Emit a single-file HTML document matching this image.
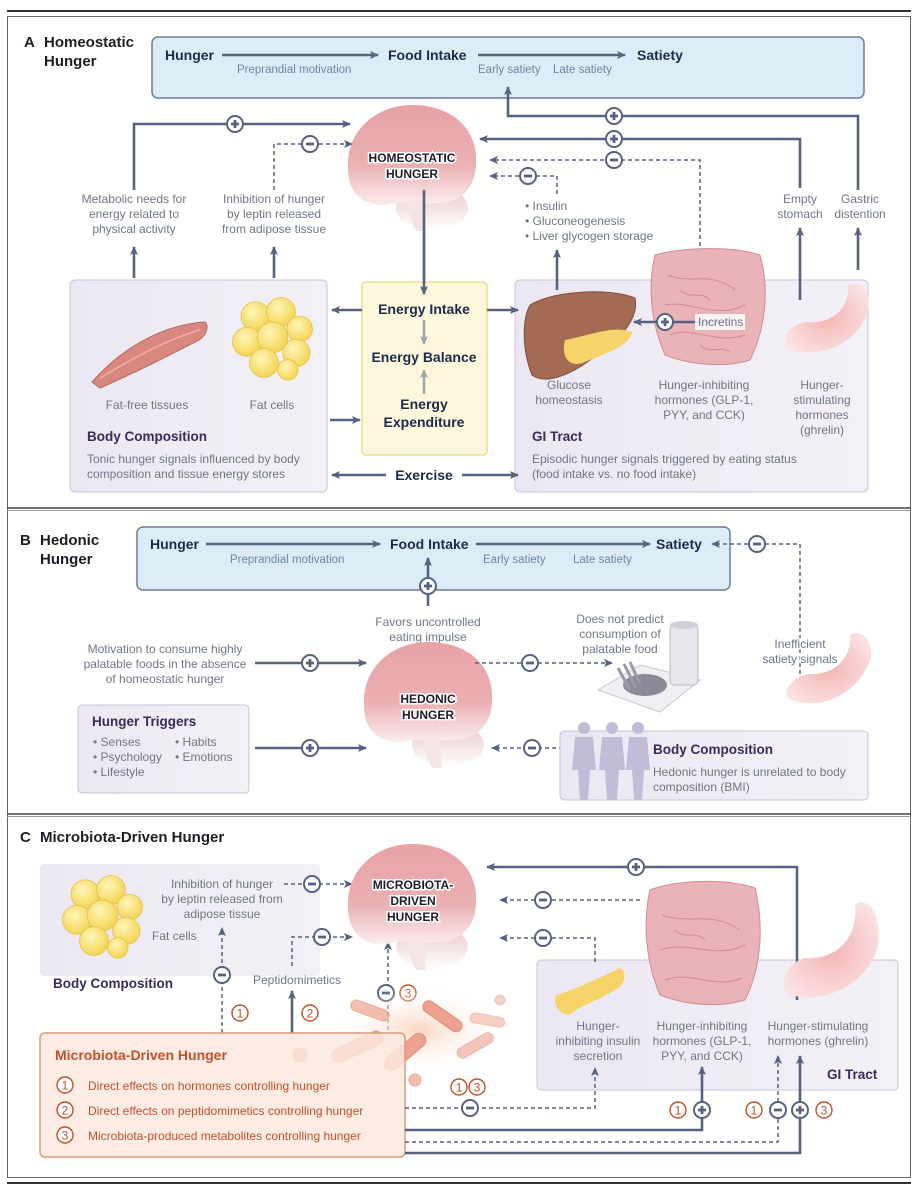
<!DOCTYPE html>
<html><head><meta charset="utf-8"><style>
html,body{margin:0;padding:0;background:#fff}
svg{display:block}
text{font-family:"Liberation Sans",sans-serif}
.g{fill:#6e7687;font-size:12px}
.gc{fill:#6e7687;font-size:12px;text-anchor:middle}
.bt{fill:#1d2b4a;font-size:14px;font-weight:bold}
.pt{fill:#3b2a5a;font-size:13.5px;font-weight:bold}
.ln{stroke:#56627f;stroke-width:2.6;fill:none}
.dl{stroke:#56627f;stroke-width:1.5;fill:none;stroke-dasharray:4 3}
.rn{fill:#c0502a;font-size:12px}
.bh{font-size:12px;font-weight:bold;fill:#1d1d2a;text-anchor:middle;stroke:#fff;stroke-width:3;paint-order:stroke}
</style></head><body>
<svg width="919" height="1200" viewBox="0 0 919 1200" xmlns="http://www.w3.org/2000/svg">
<defs>
<marker id="ar" markerWidth="10" markerHeight="10" refX="8" refY="5" orient="auto" markerUnits="userSpaceOnUse"><path d="M0,1 L9,5 L0,9 L2,5z" fill="#56627f"/></marker>
<marker id="ag" markerWidth="10" markerHeight="10" refX="8" refY="5" orient="auto" markerUnits="userSpaceOnUse"><path d="M0,1 L9,5 L0,9 L2,5z" fill="#a0a4ac"/></marker>
<symbol id="pl" viewBox="-10 -10 20 20" width="20" height="20"><circle r="8" fill="#fff" stroke="#56627f" stroke-width="2"/><path d="M-4,0H4M0,-4V4" stroke="#56627f" stroke-width="2.8"/></symbol>
<symbol id="mi" viewBox="-10 -10 20 20" width="20" height="20"><circle r="8" fill="#fff" stroke="#56627f" stroke-width="2"/><path d="M-4,0H4" stroke="#56627f" stroke-width="2.8"/></symbol>
<symbol id="c1" viewBox="-10 -10 20 20" width="20" height="20"><circle r="8" fill="#fff" stroke="#c0502a" stroke-width="1.4"/><text y="4.5" text-anchor="middle" font-size="12" fill="#c0502a" font-family="Liberation Sans">1</text></symbol>
<symbol id="c2" viewBox="-10 -10 20 20" width="20" height="20"><circle r="8" fill="#fff" stroke="#c0502a" stroke-width="1.4"/><text y="4.5" text-anchor="middle" font-size="12" fill="#c0502a" font-family="Liberation Sans">2</text></symbol>
<symbol id="c3" viewBox="-10 -10 20 20" width="20" height="20"><circle r="8" fill="#fff" stroke="#c0502a" stroke-width="1.4"/><text y="4.5" text-anchor="middle" font-size="12" fill="#c0502a" font-family="Liberation Sans">3</text></symbol>
<linearGradient id="brg" x1="0" y1="0" x2="0" y2="1"><stop offset="0" stop-color="#e8a2a6"/><stop offset="0.6" stop-color="#eab0b2"/><stop offset="1" stop-color="#fbeeee"/></linearGradient>
<linearGradient id="cbg" x1="0" y1="0" x2="0" y2="1"><stop offset="0" stop-color="#e9c6c6"/><stop offset="1" stop-color="#ffffff"/></linearGradient>
<linearGradient id="lav" x1="0" y1="0" x2="1" y2="0"><stop offset="0" stop-color="#ece8f3"/><stop offset="1" stop-color="#f3f1f7"/></linearGradient>
<radialGradient id="fat" cx="0.4" cy="0.35" r="0.7"><stop offset="0" stop-color="#fff6b8"/><stop offset="1" stop-color="#f3d24e"/></radialGradient>
<radialGradient id="stm" cx="0.5" cy="0.5" r="0.6"><stop offset="0" stop-color="#f3b5b4"/><stop offset="1" stop-color="#fbe3e2"/></radialGradient>
<radialGradient id="glow" cx="0.5" cy="0.5" r="0.5"><stop offset="0" stop-color="#fbd6c0"/><stop offset="1" stop-color="#fff" stop-opacity="0"/></radialGradient>
<symbol id="brain" viewBox="-70 -60 140 130" width="140" height="130">
<ellipse cx="20" cy="45" rx="36" ry="22" fill="url(#cbg)"/>
<path d="M-64,5 C-66,-32 -36,-58 0,-58 C42,-58 66,-32 64,0 C64,26 47,40 25,40 C5,42 -10,37 -25,42 C-47,44 -64,32 -64,5z" fill="url(#brg)"/>
<path d="M-5,38 C-3,50 0,60 4,68 L14,68 C12,55 12,45 12,38z" fill="#f4e4e4"/>
</symbol>
<symbol id="fatc" viewBox="0 0 100 100" width="100" height="100">
<g fill="url(#fat)" stroke="#e6c34a" stroke-width="1">
<circle cx="30" cy="25" r="17"/><circle cx="60" cy="20" r="17"/><circle cx="82" cy="40" r="15"/><circle cx="20" cy="55" r="17"/><circle cx="50" cy="50" r="18"/><circle cx="78" cy="68" r="16"/><circle cx="40" cy="80" r="17"/><circle cx="68" cy="88" r="12"/></g>
</symbol>
</defs>

<line x1="7" y1="11" x2="911" y2="11" stroke="#333" stroke-width="2"/>
<rect x="7.5" y="16.5" width="903" height="1161" fill="none" stroke="#666" stroke-width="1"/>
<line x1="7" y1="508" x2="911" y2="508" stroke="#444" stroke-width="1.5"/>
<line x1="7" y1="510.5" x2="911" y2="510.5" stroke="#999" stroke-width="1"/>
<line x1="7" y1="814" x2="911" y2="814" stroke="#444" stroke-width="1.5"/>
<line x1="7" y1="816.5" x2="911" y2="816.5" stroke="#999" stroke-width="1"/>
<line x1="7" y1="1183" x2="911" y2="1183" stroke="#333" stroke-width="2"/>

<!-- A -->
<text x="24" y="47" font-size="15" font-weight="bold" fill="#1d1d2a">A</text>
<text x="44" y="47" font-size="15" font-weight="bold" fill="#1d1d2a">Homeostatic</text>
<text x="44" y="66" font-size="15" font-weight="bold" fill="#1d1d2a">Hunger</text>

<rect x="152" y="37" width="712" height="61" rx="6" fill="#dcedf7" stroke="#6b7d98" stroke-width="1.5"/>
<text class="bt" x="165" y="60">Hunger</text>
<line class="ln" x1="222" y1="55" x2="378" y2="55" marker-end="url(#ar)"/>
<text class="bt" x="388" y="60">Food Intake</text>
<line class="ln" x1="478" y1="55" x2="625" y2="55" marker-end="url(#ar)"/>
<text class="bt" x="637" y="60">Satiety</text>
<text x="237" y="73" font-size="11.5" fill="#6b86a3">Preprandial motivation</text>
<text x="478" y="73" font-size="11.5" fill="#6b86a3">Early satiety</text>
<text x="553" y="73" font-size="11.5" fill="#6b86a3">Late satiety</text>

<rect x="70" y="280" width="257" height="212" rx="5" fill="url(#lav)" stroke="#c9c3d8"/>
<rect x="515" y="280" width="353" height="212" rx="5" fill="url(#lav)" stroke="#c9c3d8"/>
<rect x="362" y="282" width="125" height="173" rx="4" fill="#fdf7dc" stroke="#f0dc8c" stroke-width="1.5"/>

<use href="#brain" x="342" y="103"/>
<text class="bh" x="412" y="162">HOMEOSTATIC</text>
<text class="bh" x="412" y="178">HUNGER</text>

<path class="ln" d="M134,190 V124 H350" marker-end="url(#ar)"/>
<use href="#pl" x="225" y="114"/>
<path class="dl" d="M274,190 V144 H352" marker-end="url(#ar)"/>
<use href="#mi" x="300" y="134"/>
<text class="gc" x="134" y="203">Metabolic needs for</text>
<text class="gc" x="134" y="218">energy related to</text>
<text class="gc" x="134" y="233">physical activity</text>
<text class="gc" x="274" y="203">Inhibition of hunger</text>
<text class="gc" x="274" y="218">by leptin released</text>
<text class="gc" x="274" y="233">from adipose tissue</text>
<line class="ln" x1="134" y1="278" x2="134" y2="247" marker-end="url(#ar)"/>
<line class="ln" x1="274" y1="278" x2="274" y2="247" marker-end="url(#ar)"/>

<path class="ln" d="M858,190 V116 H508 V87" marker-end="url(#ar)"/>
<use href="#pl" x="604" y="106"/>
<path class="ln" d="M800,188 V139 H480" marker-end="url(#ar)"/>
<use href="#pl" x="604" y="129"/>
<path class="dl" d="M700,253 V160 H490" marker-end="url(#ar)"/>
<use href="#mi" x="604" y="150"/>
<path class="dl" d="M557,194 V176 H490" marker-end="url(#ar)"/>
<use href="#mi" x="518" y="166"/>
<text class="g" x="525" y="210">• Insulin</text>
<text class="g" x="525" y="225">• Gluconeogenesis</text>
<text class="g" x="525" y="240">• Liver glycogen storage</text>
<line class="ln" x1="557" y1="290" x2="557" y2="250" marker-end="url(#ar)"/>
<text class="gc" x="800" y="203">Empty</text>
<text class="gc" x="800" y="218">stomach</text>
<text class="gc" x="860" y="203">Gastric</text>
<text class="gc" x="860" y="218">distention</text>
<line class="ln" x1="800" y1="300" x2="800" y2="228" marker-end="url(#ar)"/>
<line class="ln" x1="858" y1="270" x2="858" y2="228" marker-end="url(#ar)"/>

<line class="ln" x1="424" y1="190" x2="424" y2="294" marker-end="url(#ar)"/>

<text class="bt" x="424" y="314" text-anchor="middle" font-size="13" fill="#4b5875">Energy Intake</text>
<text class="bt" x="424" y="362" text-anchor="middle" font-size="13" fill="#4b5875">Energy Balance</text>
<text class="bt" x="424" y="409" text-anchor="middle" font-size="13" fill="#4b5875">Energy</text>
<text class="bt" x="424" y="427" text-anchor="middle" font-size="13" fill="#4b5875">Expenditure</text>
<line x1="424" y1="320" x2="424" y2="344" stroke="#a0a4ac" stroke-width="2.5" marker-end="url(#ag)"/>
<line x1="424" y1="394" x2="424" y2="370" stroke="#a0a4ac" stroke-width="2.5" marker-end="url(#ag)"/>
<line class="ln" x1="362" y1="310" x2="332" y2="310" marker-end="url(#ar)"/>
<line class="ln" x1="487" y1="310" x2="518" y2="310" marker-end="url(#ar)"/>
<line class="ln" x1="330" y1="420" x2="360" y2="420" marker-end="url(#ar)"/>
<line class="ln" x1="386" y1="475" x2="332" y2="475" marker-end="url(#ar)"/>
<line class="ln" x1="462" y1="475" x2="518" y2="475" marker-end="url(#ar)"/>
<text class="bt" x="424" y="480" text-anchor="middle" font-size="13" fill="#4b5875">Exercise</text>

<path d="M92,382 C120,350 160,325 205,322 C210,328 205,338 195,342 C160,360 130,375 100,388z" fill="#d98880" stroke="#b86860" stroke-width="1"/>
<path d="M100,378 C130,360 165,340 200,330" stroke="#f0b0a8" stroke-width="1.5" fill="none"/>
<use href="#fatc" x="230" y="290" width="85" height="95"/>
<text class="gc" x="147" y="409">Fat-free tissues</text>
<text class="gc" x="272" y="409">Fat cells</text>
<text class="pt" x="87" y="441">Body Composition</text>
<text class="g" x="87" y="463">Tonic hunger signals influenced by body</text>
<text class="g" x="87" y="478">composition and tissue energy stores</text>

<path d="M530,305 C555,290 610,288 635,298 C640,320 615,345 590,360 C570,375 545,385 532,375 C522,350 522,320 530,305z" fill="#a36b52" stroke="#7d4f3c"/>
<path d="M565,340 C590,335 615,325 632,332 C630,345 610,352 585,362 C572,368 560,360 565,340z" fill="#f6d46a"/>
<path d="M655,255 C680,248 730,245 760,255 C770,290 765,330 750,360 C725,368 690,365 665,355 C650,320 648,285 655,255z" fill="#eab3b8" stroke="#d08c93"/>
<path d="M668,275 C690,285 710,270 735,290 M665,305 C690,300 715,320 745,305 M670,335 C690,325 715,345 745,335 M680,290 C690,300 700,290 710,300 M700,345 C710,355 720,345 730,352" stroke="#d08c93" fill="none"/>
<path d="M790,350 C825,360 860,340 868,310 C872,290 860,278 848,285 C850,310 830,325 805,322 C790,325 778,340 790,350z" fill="url(#stm)"/>
<path class="ln" d="M720,322 H634" marker-end="url(#ar)"/>
<use href="#pl" x="655" y="312"/>
<rect x="695" y="314" width="50" height="16" fill="#fff" opacity="0.85"/>
<text class="g" x="698" y="326">Incretins</text>
<text class="gc" x="569" y="389">Glucose</text>
<text class="gc" x="569" y="404">homeostasis</text>
<text class="gc" x="704" y="389">Hunger-inhibiting</text>
<text class="gc" x="704" y="404">hormones (GLP-1,</text>
<text class="gc" x="704" y="419">PYY, and CCK)</text>
<text class="gc" x="822" y="389">Hunger-</text>
<text class="gc" x="822" y="404">stimulating</text>
<text class="gc" x="822" y="419">hormones</text>
<text class="gc" x="822" y="434">(ghrelin)</text>
<text class="pt" x="532" y="441">GI Tract</text>
<text class="g" x="532" y="463">Episodic hunger signals triggered by eating status</text>
<text class="g" x="532" y="478">(food intake vs. no food intake)</text>

<!-- B -->
<text x="20" y="545" font-size="15" font-weight="bold" fill="#1d1d2a">B</text>
<text x="40" y="545" font-size="15" font-weight="bold" fill="#1d1d2a">Hedonic</text>
<text x="40" y="564" font-size="15" font-weight="bold" fill="#1d1d2a">Hunger</text>
<rect x="137" y="527" width="593" height="63" rx="6" fill="#dcedf7" stroke="#6b7d98" stroke-width="1.5"/>
<text class="bt" x="150" y="549">Hunger</text>
<line class="ln" x1="206" y1="544" x2="380" y2="544" marker-end="url(#ar)"/>
<text class="bt" x="390" y="549">Food Intake</text>
<line class="ln" x1="476" y1="544" x2="650" y2="544" marker-end="url(#ar)"/>
<text class="bt" x="656" y="549">Satiety</text>
<text x="230" y="563" font-size="11.5" fill="#6b86a3">Preprandial motivation</text>
<text x="483" y="563" font-size="11.5" fill="#6b86a3">Early satiety</text>
<text x="573" y="563" font-size="11.5" fill="#6b86a3">Late satiety</text>
<line class="ln" x1="428" y1="606" x2="428" y2="558" marker-end="url(#ar)"/>
<use href="#pl" x="418" y="576"/>
<path class="dl" d="M800,688 V544 H712" marker-end="url(#ar)"/>
<use href="#mi" x="747" y="534"/>
<text class="gc" x="428" y="626">Favors uncontrolled</text>
<text class="gc" x="428" y="641">eating impulse</text>
<line class="ln" x1="428" y1="690" x2="428" y2="647" marker-end="url(#ar)"/>

<use href="#brain" x="358" y="640"/>
<text class="bh" x="428" y="703">HEDONIC</text>
<text class="bh" x="428" y="719">HUNGER</text>

<text class="gc" x="165" y="653">Motivation to consume highly</text>
<text class="gc" x="165" y="668">palatable foods in the absence</text>
<text class="gc" x="165" y="683">of homeostatic hunger</text>
<line class="ln" x1="255" y1="663" x2="366" y2="663" marker-end="url(#ar)"/>
<use href="#pl" x="300" y="653"/>
<path class="dl" d="M475,663 H612" marker-end="url(#ar)"/>
<use href="#mi" x="520" y="653"/>
<text class="gc" x="620" y="623">Does not predict</text>
<text class="gc" x="620" y="638">consumption of</text>
<text class="gc" x="620" y="653">palatable food</text>
<path d="M598,690 L640,665 L700,680 L660,712z" fill="#f0f0f4" stroke="#c8c8d0"/>
<rect x="670" y="625" width="28" height="60" rx="4" fill="#e6e6ec" stroke="#b8b8c4"/>
<ellipse cx="684" cy="625" rx="14" ry="4" fill="#d0d0da"/>
<ellipse cx="645" cy="685" rx="22" ry="11" fill="#8a8a98"/>
<path d="M618,668 L630,690 M624,664 L636,688 M630,662 L640,684" stroke="#9a9aa8" stroke-width="3"/>
<path d="M790,700 C825,712 860,690 870,660 C875,640 860,628 850,635 C852,660 832,676 808,674 C792,677 780,692 790,700z" fill="url(#stm)"/>
<text class="gc" x="800" y="648" stroke="#fff" stroke-width="3" paint-order="stroke">Inefficient</text>
<text class="gc" x="800" y="663" stroke="#fff" stroke-width="3" paint-order="stroke">satiety signals</text>

<rect x="78" y="705" width="171" height="88" rx="4" fill="url(#lav)" stroke="#c9c3d8"/>
<text class="pt" x="92" y="726">Hunger Triggers</text>
<text class="g" x="93" y="746">• Senses</text>
<text class="g" x="175" y="746">• Habits</text>
<text class="g" x="93" y="761">• Psychology</text>
<text class="g" x="175" y="761">• Emotions</text>
<text class="g" x="93" y="776">• Lifestyle</text>
<line class="ln" x1="255" y1="748" x2="366" y2="748" marker-end="url(#ar)"/>
<use href="#pl" x="300" y="738"/>
<path class="dl" d="M570,748 H492" marker-end="url(#ar)"/>
<use href="#mi" x="522" y="738"/>

<rect x="560" y="731" width="308" height="69" rx="4" fill="url(#lav)" stroke="#c9c3d8"/>
<g fill="#c2bcd8">
<circle cx="584" cy="728" r="6"/><path d="M575,737 H593 L596,770 H590 L588,800 H580 L578,770 H572z"/>
<circle cx="612" cy="728" r="6"/><path d="M602,737 H622 L625,770 H619 L617,800 H607 L605,770 H599z"/>
<circle cx="638" cy="728" r="6"/><path d="M629,737 H647 L650,770 H644 L642,800 H634 L632,770 H626z"/>
</g>
<text class="pt" x="653" y="754">Body Composition</text>
<text class="g" x="653" y="776">Hedonic hunger is unrelated to body</text>
<text class="g" x="653" y="791">composition (BMI)</text>

<!-- C -->
<text x="20" y="842" font-size="15" font-weight="bold" fill="#1d1d2a">C</text>
<text x="40" y="842" font-size="15" font-weight="bold" fill="#1d1d2a">Microbiota-Driven Hunger</text>

<rect x="40" y="864" width="280" height="112" rx="4" fill="url(#lav)" stroke="none"/>
<use href="#fatc" x="60" y="868" width="85" height="95"/>
<text class="g" x="152" y="940">Fat cells</text>
<text class="pt" x="53" y="988">Body Composition</text>

<text class="gc" x="222" y="888">Inhibition of hunger</text>
<text class="gc" x="222" y="903">by leptin released from</text>
<text class="gc" x="222" y="918">adipose tissue</text>
<path class="dl" d="M284,884 H352" marker-end="url(#ar)"/>
<use href="#mi" x="302" y="874"/>
<path class="dl" d="M222,1033 V928" marker-end="url(#ar)"/>
<use href="#mi" x="212" y="965"/>
<use href="#c1" x="230" y="1003"/>
<text class="g" x="253" y="984">Peptidomimetics</text>
<line class="ln" x1="292" y1="1033" x2="292" y2="991" marker-end="url(#ar)"/>
<use href="#c2" x="300" y="1003"/>
<path class="dl" d="M292,966 V937 H352" marker-end="url(#ar)"/>
<use href="#mi" x="312" y="927"/>
<path class="dl" d="M388,1030 V942" marker-end="url(#ar)"/>
<use href="#mi" x="376" y="983"/>
<use href="#c3" x="398" y="983"/>

<use href="#brain" x="342" y="842"/>
<text class="bh" x="413" y="889">MICROBIOTA-</text>
<text class="bh" x="413" y="905">DRIVEN</text>
<text class="bh" x="413" y="921">HUNGER</text>

<rect x="537" y="960" width="361" height="130" rx="4" fill="url(#lav)" stroke="#c9c3d8"/>
<path class="ln" d="M797,1000 V867 H487" marker-end="url(#ar)"/>
<use href="#pl" x="626" y="857"/>
<path class="dl" d="M640,900 H500" marker-end="url(#ar)"/>
<use href="#mi" x="533" y="890"/>
<path class="dl" d="M595,962 V938 H500" marker-end="url(#ar)"/>
<use href="#mi" x="533" y="928"/>
<path d="M556,995 C575,990 605,975 620,968 C628,972 625,985 615,990 C600,1000 580,1005 570,1015 C560,1015 552,1005 556,995z" fill="#f6d46a"/>
<path d="M650,890 C675,880 725,878 755,888 C765,930 760,970 745,1000 C720,1008 685,1005 660,995 C645,960 643,920 650,890z" fill="#eab3b8" stroke="#d08c93"/>
<path d="M662,915 C690,925 710,910 740,930 M660,950 C690,940 715,960 745,945 M665,980 C690,970 715,990 742,978 M675,930 C685,940 695,930 705,940" stroke="#d08c93" fill="none"/>
<path d="M790,995 C830,1005 870,980 878,945 C882,915 868,895 855,905 C858,940 835,960 805,958 C788,962 776,985 790,995z" fill="url(#stm)"/>
<text class="gc" x="598" y="1030">Hunger-</text>
<text class="gc" x="598" y="1045">inhibiting insulin</text>
<text class="gc" x="598" y="1060">secretion</text>
<text class="gc" x="702" y="1030">Hunger-inhibiting</text>
<text class="gc" x="702" y="1045">hormones (GLP-1,</text>
<text class="gc" x="702" y="1060">PYY, and CCK)</text>
<text class="gc" x="818" y="1030">Hunger-stimulating</text>
<text class="gc" x="818" y="1045">hormones (ghrelin)</text>
<text class="pt" x="827" y="1079">GI Tract</text>

<ellipse cx="420" cy="1030" rx="90" ry="45" fill="url(#glow)"/>
<g fill="#eea390" stroke="#e08a75" stroke-width="1">
<rect x="330" y="1040" width="55" height="14" rx="7" transform="rotate(-25 357 1047)"/>
<rect x="380" y="1045" width="50" height="14" rx="7" transform="rotate(-40 405 1052)"/>
<rect x="420" y="1010" width="45" height="12" rx="6" transform="rotate(35 442 1016)"/>
<rect x="350" y="1005" width="40" height="11" rx="5.5" transform="rotate(20 370 1010)" opacity="0.7"/>
<rect x="455" y="1040" width="40" height="11" rx="5.5" transform="rotate(-30 475 1045)" opacity="0.6"/>
<rect x="470" y="1015" width="35" height="10" rx="5" transform="rotate(10 487 1020)" opacity="0.5"/>
<circle cx="300" cy="1055" r="7"/><circle cx="415" cy="1080" r="6" opacity="0.7"/><circle cx="500" cy="1000" r="5" opacity="0.5"/>
</g>

<rect x="40" y="1033" width="365" height="124" rx="5" fill="#fbe9df" fill-opacity="0.85" stroke="#dc9a7c" stroke-width="1.5"/>
<text x="55" y="1060" font-size="14" font-weight="bold" fill="#c0502a">Microbiota-Driven Hunger</text>
<use href="#c1" x="55" y="1075"/>
<text class="rn" x="88" y="1090">Direct effects on hormones controlling hunger</text>
<use href="#c2" x="55" y="1100"/>
<text class="rn" x="88" y="1115">Direct effects on peptidomimetics controlling hunger</text>
<use href="#c3" x="55" y="1125"/>
<text class="rn" x="88" y="1140">Microbiota-produced metabolites controlling hunger</text>

<path class="dl" d="M405,1108 H595 V1068" marker-end="url(#ar)"/>
<use href="#mi" x="460" y="1098"/>
<use href="#c1" x="449" y="1077"/><use href="#c3" x="467" y="1077"/>
<path class="ln" d="M405,1130 H702 V1067" marker-end="url(#ar)"/>
<use href="#pl" x="692" y="1100"/>
<use href="#c1" x="668" y="1100"/>
<path class="dl" d="M405,1142 H778 V1056" marker-end="url(#ar)"/>
<use href="#mi" x="768" y="1100"/>
<use href="#c1" x="744" y="1100"/>
<path class="ln" d="M405,1153 H800 V1056" marker-end="url(#ar)"/>
<use href="#pl" x="790" y="1100"/>
<use href="#c3" x="814" y="1100"/>
</svg>
</body></html>
